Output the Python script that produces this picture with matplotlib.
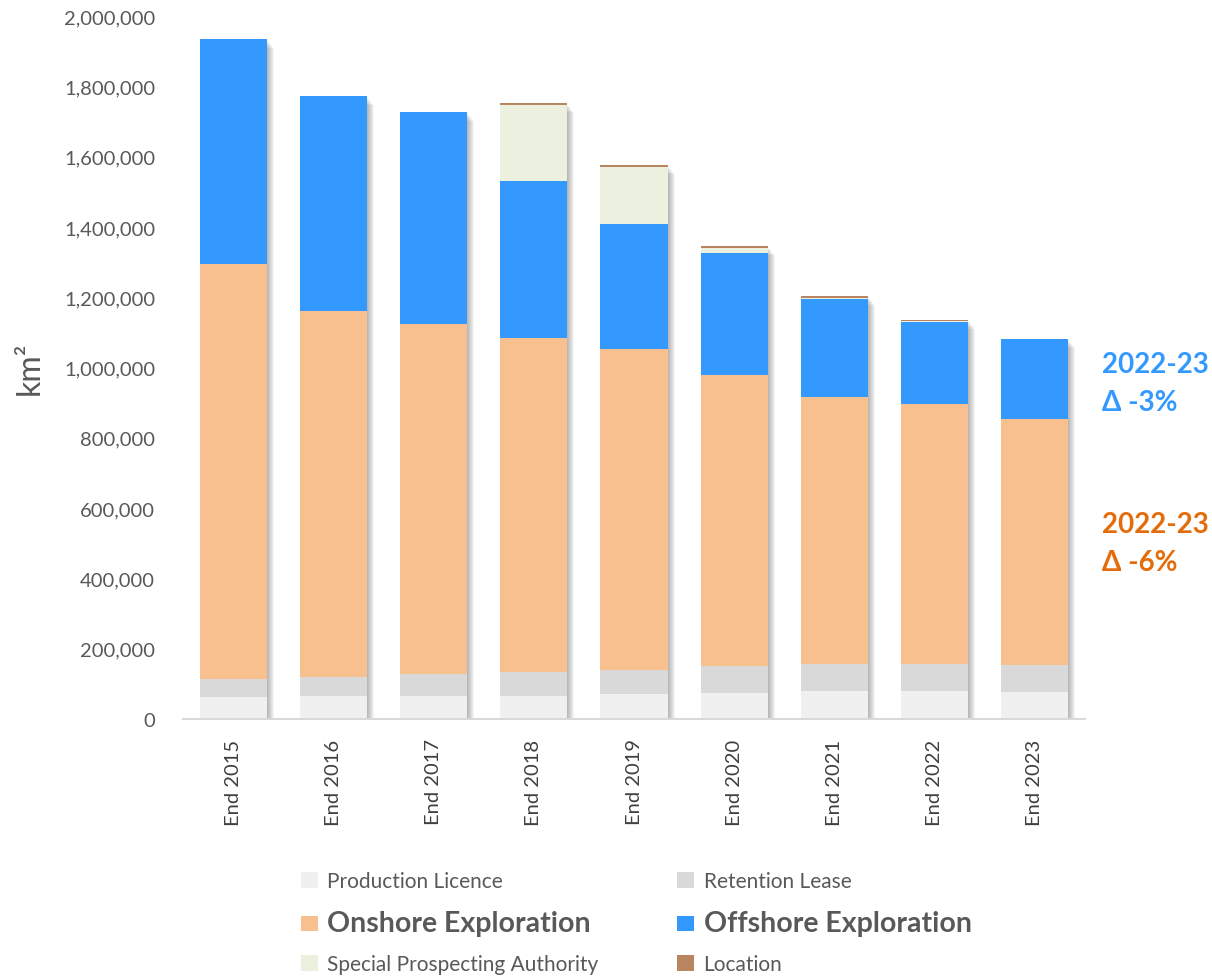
import matplotlib
matplotlib.use("Agg")
import numpy as np
import matplotlib.pyplot as plt
from matplotlib.ticker import FuncFormatter

# Licence areas by type, km2, end of each year
years = ["End 2015", "End 2016", "End 2017", "End 2018", "End 2019",
         "End 2020", "End 2021", "End 2022", "End 2023"]
production = [63000, 66000, 66000, 66000, 72000, 73000, 79000, 79000, 76000]
retention = [50000, 52600, 63000, 67000, 67400, 77000, 77500, 76600, 78500]
onshore = [1181500, 1042100, 994800, 951000, 913200, 828700, 759500, 740400, 699000]
offshore = [640100, 611700, 603100, 447500, 355700, 346200, 279700, 234300, 227600]
spa = [0, 0, 0, 216200, 163000, 15100, 3000, 1000, 0]
location = [0, 0, 0, 4000, 4000, 5000, 5000, 5000, 1000]

series = [
    ("Production Licence", production, "#F0F0F0"),
    ("Retention Lease", retention, "#D9D9D9"),
    ("Onshore Exploration", onshore, "#F8C08F"),
    ("Offshore Exploration", offshore, "#3399FF"),
    ("Special Prospecting Authority", spa, "#EBF0DF"),
    ("Location", location, "#B98460"),
]

blue_note = ["2022-23", "\u0394 -3%"]
orange_note = ["2022-23", "\u0394 -6%"]

plt.rcParams["font.family"] = ["Lato", "DejaVu Sans"]
grey = "#595959"

fig = plt.figure(figsize=(12.12, 9.78), dpi=100)
ax = fig.add_axes([183 / 1212, 1 - 720 / 978, 902 / 1212, 703 / 978])

x = np.arange(len(years))
width = 0.67
totals = np.sum([s[1] for s in series], axis=0)

# soft drop shadow behind each full bar
px_x = 0.01
px_y = 2e6 / 703
for k in range(1, 8):
    ax.bar(x + k * px_x, totals - k * px_y, width, bottom=-k * px_y * 0.3,
           color="black", alpha=0.045, linewidth=0, zorder=1)

handles = {}
bottom = np.zeros(len(years))
for name, vals, col in series:
    vals = np.array(vals, dtype=float)
    handles[name] = ax.bar(x, vals, width, bottom=bottom, color=col,
                           linewidth=0, zorder=2, label=name)
    bottom += vals

ax.set_xlim(-0.5, 8.5)
ax.set_ylim(0, 2000000)
ax.set_yticks(np.arange(0, 2000001, 200000))
ax.yaxis.set_major_formatter(FuncFormatter(lambda v, p: f"{int(v):,}"))
ax.set_xticks(x)
ax.set_xticklabels(years, rotation=90)
ax.tick_params(axis="y", length=0, pad=20, labelsize=14.5, labelcolor=grey)
ax.tick_params(axis="x", length=0, pad=14, labelsize=14.5, labelcolor="#404040")
for s in ["top", "right", "left"]:
    ax.spines[s].set_visible(False)
ax.spines["bottom"].set_color("#D9D9D9")
ax.spines["bottom"].set_linewidth(1.5)
ax.spines["bottom"].set_zorder(3)
ax.set_ylabel("km\u00b2", fontsize=23, color=grey, labelpad=14)

# change notes on the right
fig.text(1102 / 1212, 1 - 352 / 978, "\n".join(blue_note), color="#3399FF",
         fontsize=20, fontweight="bold", va="top", ha="left", linespacing=1.55)
fig.text(1102 / 1212, 1 - 512 / 978, "\n".join(orange_note), color="#E46C0A",
         fontsize=20, fontweight="bold", va="top", ha="left", linespacing=1.55)

order = ["Production Licence", "Onshore Exploration", "Special Prospecting Authority",
         "Retention Lease", "Offshore Exploration", "Location"]
leg = fig.legend([handles[n] for n in order], order, ncol=2, frameon=False,
                 loc="upper left", bbox_to_anchor=(301 / 1212, 1 - 872 / 978),
                 fontsize=15, handlelength=0.8, handleheight=0.8,
                 handletextpad=0.45, columnspacing=3.8, labelspacing=0.9,
                 borderaxespad=0, borderpad=0)
for t in leg.get_texts():
    t.set_color(grey)
    if "Exploration" in t.get_text():
        t.set_fontsize(20.5)
        t.set_fontweight("bold")

fig.savefig("out.png", dpi=100)
